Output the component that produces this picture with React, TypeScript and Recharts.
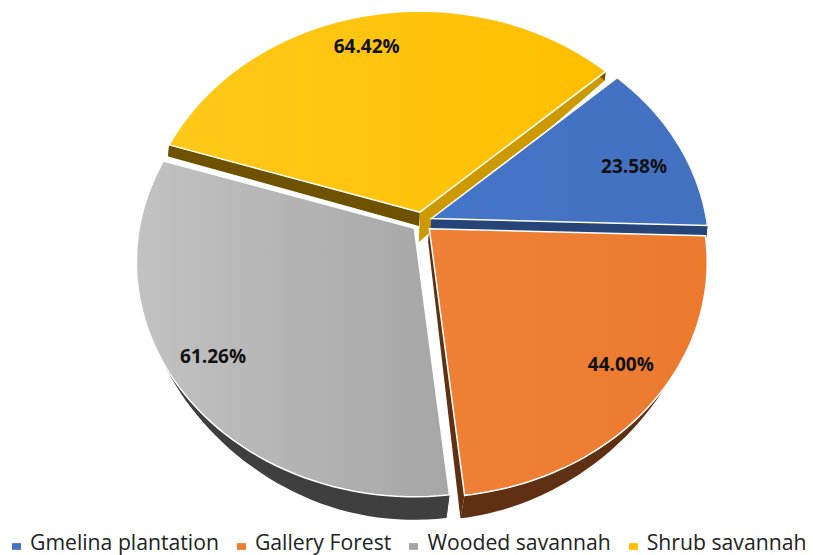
import { PieChart, Pie, Legend } from "recharts"

// legend order
const categories = ["Gmelina plantation", "Gallery Forest", "Wooded savannah", "Shrub savannah"]
const values = [23.58, 44.0, 61.26, 64.42]
const colors = ["#4472c4", "#ed7d31", "#a5a5a5", "#ffc000"]
const gradients = [
  ["#4575c8", "#4370bf"],
  ["#ef8136", "#eb7a2f"],
  ["#c2c2c2", "#a6a6a6"],
  ["#ffc91a", "#ffbf00"],
]
const sideColors = ["#264478", "#5f3014", "#3f3f3f", "#cc9a00"]
const cutColors = ["#264478", "#5f3014", "#3f3f3f", "#6e5200"]

// draw order starts at the shrub slice, the walls of the back slices go first
const drawOrder = [3, 0, 1, 2]
const pieData = drawOrder.map(i => ({
  name: categories[i],
  value: values[i],
  fill: colors[i],
  slice: i,
}))

const PERSPECTIVE = 0.1435
const FLATTEN = 0.836
const EXPLODE = 10
const LABEL_RADIUS = 0.83
const labelNudge = [
  [-3, 11],
  [9, -6],
  [-10, -3],
  [-10, 1],
]

const rad = (deg: number) => (deg * Math.PI) / 180

function project(p: any, deg: number, f: number) {
  const mid = rad(p.midAngle)
  const u = f * Math.cos(rad(deg))
  const v = f * Math.sin(rad(deg))
  const d = 1 + PERSPECTIVE * v
  return {
    x: p.cx + EXPLODE * Math.cos(mid) + (p.outerRadius * u) / d,
    y: p.cy - EXPLODE * Math.sin(mid) - (p.outerRadius * FLATTEN * v) / d,
  }
}

// where a point of the top face lands on the lower face
function lower(p: any, pt: { x: number; y: number }, drop = 0) {
  const below = Math.max(0, pt.y - p.cy) / 165
  return {
    x: p.cx + (pt.x - p.cx) * (1 - 0.05 * Math.min(below, 1.5)) - 1,
    y: pt.y + 14 + drop + (pt.y - p.cy) * 0.033,
  }
}

const toPath = (pts: { x: number; y: number }[]) =>
  "M" + pts.map(q => `${q.x.toFixed(1)},${q.y.toFixed(1)}`).join("L") + "Z"

function SliceShape(props: any) {
  const { startAngle, endAngle, slice } = props
  const steps = 60
  const rim = []
  for (let i = 0; i <= steps; i++) {
    rim.push(project(props, startAngle + ((endAngle - startAngle) * i) / steps, 1))
  }
  const apex = project(props, startAngle, 0)
  const first = rim[0]
  const last = rim[rim.length - 1]
  const id = `slice-${slice}`
  const apexDrop = slice === 3 ? 16 : 0
  return (
    <g>
      <defs>
        <linearGradient id={id} x1="0" y1="0" x2="1" y2="0">
          <stop offset="0%" stopColor={gradients[slice][0]} />
          <stop offset="100%" stopColor={gradients[slice][1]} />
        </linearGradient>
      </defs>
      <path d={toPath([apex, last, lower(props, last), lower(props, apex, apexDrop)])} fill={sideColors[slice]} />
      <path d={toPath([apex, first, lower(props, first), lower(props, apex)])} fill={cutColors[slice]} />
      <path d={toPath([...rim, ...rim.map(q => lower(props, q)).reverse()])} fill={cutColors[slice]} />
      <path d={toPath([apex, ...rim])} fill={`url(#${id})`} stroke="#fff" strokeWidth={1.5} />
    </g>
  )
}

function renderLabel(props: any) {
  const c = project(props, props.midAngle, LABEL_RADIUS)
  const nudge = labelNudge[props.slice]
  return (
    <text
      x={c.x + nudge[0]}
      y={c.y + nudge[1]}
      textAnchor="middle"
      dominantBaseline="central"
      fontFamily="Open Sans"
      fontWeight={700}
      fontSize={19}
      fill="#111"
    >
      {props.value.toFixed(2)}%
    </text>
  )
}

export default function App() {
  return (
    <div style={{ position: "absolute", left: 0, top: 0, width: 813, height: 555, overflow: "hidden", background: "#fff" }}>
      <PieChart width={813} height={555} margin={{ top: 0, right: 0, bottom: 0, left: 0 }}>
        <Pie
          data={pieData}
          dataKey="value"
          nameKey="name"
          cx={422}
          cy={222}
          outerRadius={275}
          startAngle={162.2}
          endAngle={-197.8}
          stroke="none"
          shape={SliceShape}
          label={renderLabel}
          labelLine={false}
          isAnimationActive={false}
        />
        <Legend
          verticalAlign="bottom"
          align="left"
          iconSize={9}
          itemSorter={(item: any) => categories.indexOf(item.value)}
          wrapperStyle={{ bottom: -3, left: 12, width: 800, whiteSpace: "nowrap", lineHeight: "26px" }}
          formatter={(value: string) => (
            <span
              style={{
                color: "#222",
                fontFamily: "Open Sans",
                fontSize: 21.2,
                marginLeft: 5,
                marginRight: 8,
              }}
            >
              {value}
            </span>
          )}
        />
      </PieChart>
    </div>
  )
}
